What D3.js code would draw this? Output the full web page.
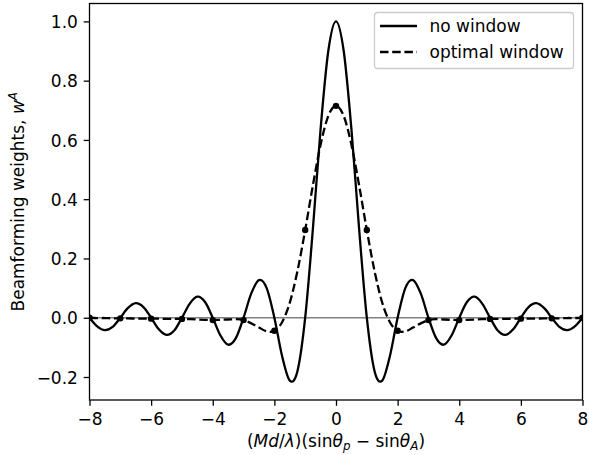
<!DOCTYPE html>
<html>
<head>
<meta charset="utf-8">
<script src="https://cdn.jsdelivr.net/npm/d3@7"></script>
<style>
  html, body { margin: 0; padding: 0; background: #fff; }
  svg { display: block; font-family: "DejaVu Sans", sans-serif; }
</style>
</head>
<body>
<svg id="chart" width="589" height="455"></svg>
<script>
// ---------- data ----------
const xSamples = [
  -8, -7.75, -7.5, -7.25, -7, -6.75, -6.5, -6.25, -6, -5.75, -5.5, -5.25,
  -5, -4.75, -4.5, -4.25, -4, -3.75, -3.5, -3.25, -3, -2.75, -2.5, -2.25,
  -2, -1.75, -1.5, -1.25, -1, -0.75, -0.5, -0.25, 0,
  0.25, 0.5, 0.75, 1, 1.25, 1.5, 1.75, 2, 2.25, 2.5, 2.75,
  3, 3.25, 3.5, 3.75, 4, 4.25, 4.5, 4.75, 5, 5.25, 5.5, 5.75,
  6, 6.25, 6.5, 6.75, 7, 7.25, 7.5, 7.75, 8
];
const noWindow = [
  0.000, -0.029, -0.042, -0.031, 0.000, 0.033, 0.049, 0.036, 0.000, -0.039, -0.058, -0.043,
  0.000, 0.047, 0.071, 0.053, 0.000, -0.060, -0.091, -0.069, 0.000, 0.082, 0.127, 0.100,
  0.000, -0.129, -0.212, -0.180, 0.000, 0.300, 0.637, 0.900, 1.000,
  0.900, 0.637, 0.300, 0.000, -0.180, -0.212, -0.129, 0.000, 0.100, 0.127, 0.082,
  0.000, -0.069, -0.091, -0.060, 0.000, 0.053, 0.071, 0.047, 0.000, -0.043, -0.058, -0.039,
  0.000, 0.036, 0.049, 0.033, 0.000, -0.031, -0.042, -0.029, 0.000
];
const optimalWindow = [
  0.000, -0.001, -0.001, -0.002, -0.002, -0.002, -0.003, -0.003, -0.003, -0.003, -0.004, -0.004,
  -0.004, -0.005, -0.006, -0.007, -0.008, -0.007, -0.006, -0.005, -0.008, -0.019, -0.033, -0.046,
  -0.044, -0.015, 0.051, 0.158, 0.296, 0.447, 0.584, 0.681, 0.715,
  0.681, 0.584, 0.447, 0.296, 0.158, 0.051, -0.015, -0.044, -0.046, -0.033, -0.019,
  -0.008, -0.005, -0.006, -0.007, -0.008, -0.007, -0.006, -0.005, -0.004, -0.004, -0.004, -0.003,
  -0.003, -0.003, -0.003, -0.002, -0.002, -0.002, -0.001, -0.001, 0.000
];
const sampleIndex = [-8, -7, -6, -5, -4, -3, -2, -1, 0, 1, 2, 3, 4, 5, 6, 7, 8];
const sampleWeights = [0.000, -0.002, -0.003, -0.004, -0.008, -0.008, -0.044, 0.296, 0.715,
                       0.296, -0.044, -0.008, -0.008, -0.004, -0.003, -0.002, 0.000];
const xTicks = [-8, -6, -4, -2, 0, 2, 4, 6, 8];
const yTicks = [-0.2, 0.0, 0.2, 0.4, 0.6, 0.8, 1.0];
const legendLabels = ["no window", "optimal window"];

// ---------- layout ----------
const FS = 17;
const plot = { left: 89.5, right: 582.5, top: 3.5, bottom: 400 };
const svg = d3.select("#chart");

const x = d3.scaleLinear().domain([-8, 8]).range([plot.left, plot.right]);
const y = d3.scaleLinear().domain([-0.2776, 1.0604]).range([plot.bottom, plot.top]);

svg.append("defs").append("clipPath").attr("id", "clip")
  .append("rect")
  .attr("x", plot.left).attr("y", plot.top)
  .attr("width", plot.right - plot.left).attr("height", plot.bottom - plot.top);

const g = svg.append("g").attr("clip-path", "url(#clip)");

// zero line
g.append("line")
  .attr("x1", x(-8)).attr("x2", x(8))
  .attr("y1", y(0)).attr("y2", y(0))
  .attr("stroke", "#808080").attr("stroke-width", 1.7);

const line = d3.line()
  .x((d, i) => x(xSamples[i]))
  .y(d => y(d))
  .curve(d3.curveCatmullRom.alpha(0));

g.append("path").datum(noWindow)
  .attr("d", line)
  .attr("fill", "none").attr("stroke", "#000").attr("stroke-width", 2.3)
  .attr("stroke-linejoin", "round");

g.append("path").datum(optimalWindow)
  .attr("d", line)
  .attr("fill", "none").attr("stroke", "#000").attr("stroke-width", 2.3)
  .attr("stroke-dasharray", "8.5,3.7");

g.selectAll("circle.dot").data(sampleWeights).enter().append("circle")
  .attr("class", "dot")
  .attr("cx", (d, i) => x(sampleIndex[i]))
  .attr("cy", d => y(d))
  .attr("r", 3.2)
  .attr("fill", "#000");

// axes
const tickLen = 5.8, tickPad = 5.8;
const xAxis = d3.axisBottom(x).tickValues(xTicks)
  .tickFormat(d3.format("d")).tickSizeOuter(0).tickSize(tickLen).tickPadding(tickPad);
const yAxis = d3.axisLeft(y).tickValues(yTicks)
  .tickFormat(d3.format(".1f")).tickSizeOuter(0).tickSize(tickLen).tickPadding(tickPad);

const gx = svg.append("g").attr("transform", `translate(0,${plot.bottom})`).call(xAxis);
const gy = svg.append("g").attr("transform", `translate(${plot.left},0)`).call(yAxis);
[gx, gy].forEach(a => {
  a.select(".domain").remove();
  a.selectAll(".tick line").attr("stroke", "#000").attr("stroke-width", 1.3);
  a.selectAll(".tick text").attr("fill", "#000")
    .style("font-family", "DejaVu Sans").style("font-size", FS + "px");
});
gx.selectAll(".tick text").attr("dy", "0.76em");
gy.selectAll(".tick text").attr("dy", "0.36em");

// frame
svg.append("rect")
  .attr("x", plot.left).attr("y", plot.top)
  .attr("width", plot.right - plot.left).attr("height", plot.bottom - plot.top)
  .attr("fill", "none").attr("stroke", "#000").attr("stroke-width", 1.3);

// x label: (Md/λ)(sinθ_p − sinθ_A)
const xl = svg.append("text")
  .attr("x", (plot.left + plot.right) / 2).attr("y", 446.5)
  .attr("text-anchor", "middle")
  .style("font-size", FS + "px").attr("fill", "#000");
xl.append("tspan").text("(");
xl.append("tspan").attr("font-style", "italic").text("Md");
xl.append("tspan").text("/");
xl.append("tspan").attr("font-style", "italic").text("λ");
xl.append("tspan").text(")(sin");
xl.append("tspan").attr("font-style", "italic").text("θ");
xl.append("tspan").attr("font-style", "italic").attr("font-size", FS * 0.7 + "px").attr("dy", 3.5).text("p");
xl.append("tspan").attr("dy", -3.5).text(" − sin");
xl.append("tspan").attr("font-style", "italic").text("θ");
xl.append("tspan").attr("font-style", "italic").attr("font-size", FS * 0.7 + "px").attr("dy", 3.5).text("A");
xl.append("tspan").attr("dy", -3.5).text(")");

// y label
const yl = svg.append("text")
  .attr("transform", `translate(24,${(plot.top + plot.bottom) / 2}) rotate(-90)`)
  .attr("text-anchor", "middle")
  .style("font-size", FS + "px").attr("fill", "#000");
yl.append("tspan").text("Beamforming weights, ");
yl.append("tspan").attr("font-style", "italic").text("w");
yl.append("tspan").attr("font-style", "italic").attr("font-size", FS * 0.7 + "px").attr("dy", -7).text("A");

// legend
const lg = svg.append("g");
lg.append("rect")
  .attr("x", 374.5).attr("y", 12.5).attr("width", 199).attr("height", 56)
  .attr("rx", 3.3).attr("ry", 3.3)
  .attr("fill", "#fff").attr("fill-opacity", 0.8)
  .attr("stroke", "#cccccc").attr("stroke-width", 1.3);
const rowsY = [26, 52];
legendLabels.forEach((lab, i) => {
  lg.append("line")
    .attr("x1", 380).attr("x2", 417)
    .attr("y1", rowsY[i]).attr("y2", rowsY[i])
    .attr("stroke", "#000").attr("stroke-width", 2.3)
    .attr("stroke-dasharray", i === 1 ? "8.5,3.7" : null);
  lg.append("text")
    .attr("x", 429.5).attr("y", rowsY[i] + 6)
    .style("font-size", FS + "px").attr("fill", "#000")
    .text(lab);
});
</script>
</body>
</html>
